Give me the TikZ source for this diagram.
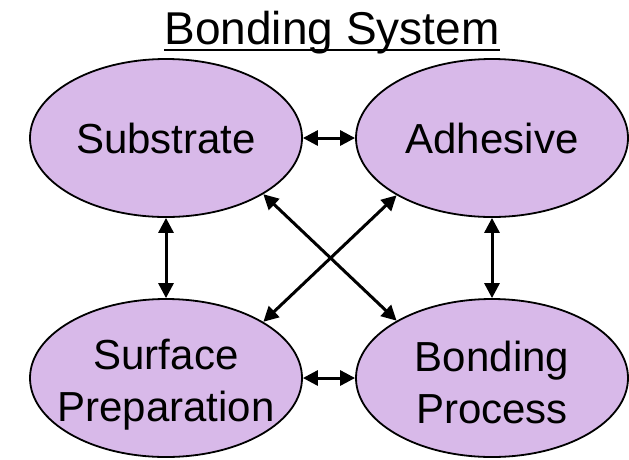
\documentclass[tikz,border=0pt]{standalone}
\usepackage{fontspec}
\setmainfont{Liberation Sans}
\usetikzlibrary{shapes.geometric,arrows.meta,calc}
\definecolor{lilac}{RGB}{216,185,233}

\tikzset{every picture/.style={line width=0.75pt}}
\tikzset{
  blob/.style={ellipse, draw=black, line width=1.8pt, fill=lilac,
    minimum width=272pt, minimum height=158pt, inner sep=0pt},
  blobtext/.style={inner sep=0pt, align=center, font=\fontsize{42}{52}\selectfont},
  link/.style={{Triangle[length=15pt,width=15pt]}-{Triangle[length=15pt,width=15pt]},
    line width=3pt}
}

\begin{document}
\begin{tikzpicture}[x=1pt,y=1pt,yscale=-1]
\useasboundingbox (0,0) rectangle (629,459);

% Title Node
\node (title) [anchor=base, inner sep=0pt, font=\fontsize{46}{54}\selectfont] at (332,44) {Bonding System};
%Straight Lines: underline
\draw [line width=2pt] ($(title.base west)+(0,6)$) -- ($(title.base east)+(0,6)$);

%Shape: Ellipse
\node (sub) [blob] at (166,138) {};
%Shape: Ellipse
\node (adh) [blob] at (492,138) {};
%Shape: Ellipse
\node (surf) [blob] at (166,378) {};
%Shape: Ellipse
\node (bproc) [blob] at (492,378) {};

% Text Node
\node (subtxt) [blobtext] at (166,138) {Substrate};
% Text Node
\node (adhtxt) [blobtext] at (492,138) {Adhesive};
% Text Node
\node (surftxt) [blobtext] at (166,385) {Surface\\Preparation};
% Text Node
\node (bproctxt) [blobtext] at (492,382) {Bonding\\Process};

%Straight Lines
\draw [link] (sub) -- (adh);
\draw [link] (surf) -- (bproc);
\draw [link] (sub) -- (surf);
\draw [link] (adh) -- (bproc);
\draw [link] (sub.-30) -- (bproc.149);
\draw [link] (adh.-149) -- (surf.30);

\end{tikzpicture}
\end{document}
